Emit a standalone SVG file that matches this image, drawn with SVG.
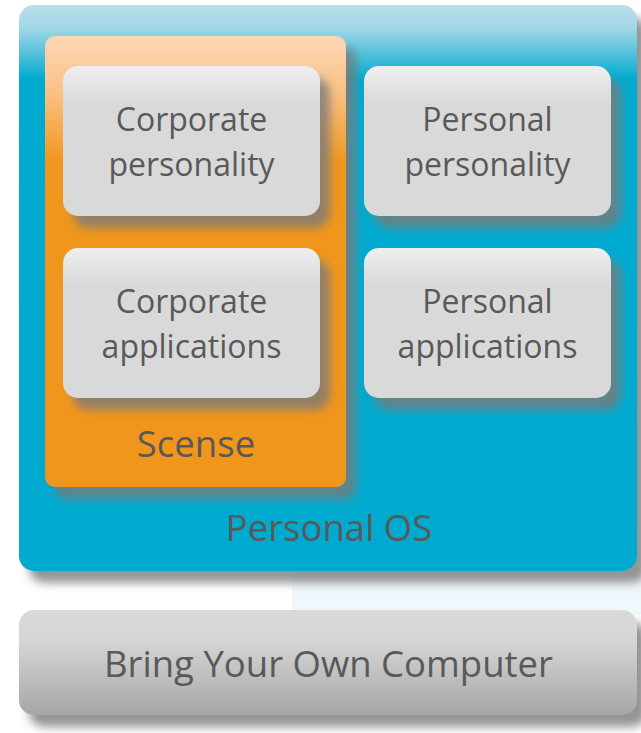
<svg xmlns="http://www.w3.org/2000/svg" width="641" height="733" viewBox="0 0 641 733">
<defs>
<linearGradient id="gBlue" x1="0" y1="0" x2="0" y2="1">
<stop offset="0" stop-color="#b9dfea"/>
<stop offset="0.04" stop-color="#a2d7e6"/>
<stop offset="0.09" stop-color="#4cbfda"/>
<stop offset="0.13" stop-color="#00abcf"/>
<stop offset="1" stop-color="#00aacf"/>
</linearGradient>
<linearGradient id="gOrange" x1="0" y1="0" x2="0" y2="1">
<stop offset="0" stop-color="#fdd7b6"/>
<stop offset="0.12" stop-color="#f9c387"/>
<stop offset="0.28" stop-color="#f1961e"/>
<stop offset="1" stop-color="#f1961e"/>
</linearGradient>
<linearGradient id="gGrey" x1="0" y1="0" x2="0" y2="1">
<stop offset="0" stop-color="#efefef"/>
<stop offset="0.25" stop-color="#d9d9d9"/>
<stop offset="1" stop-color="#d9d9d9"/>
</linearGradient>
<linearGradient id="gBase" x1="0" y1="0" x2="0" y2="1">
<stop offset="0" stop-color="#d9d9d9"/>
<stop offset="0.3" stop-color="#d5d5d5"/>
<stop offset="1" stop-color="#a6a6a6"/>
</linearGradient>
<linearGradient id="gGlow" x1="0" y1="0" x2="0" y2="1">
<stop offset="0" stop-color="#eef7fb" stop-opacity="0"/>
<stop offset="0.5" stop-color="#eef7fb"/>
<stop offset="1" stop-color="#f0f8fc"/>
</linearGradient>
<filter id="shadow" x="-10%" y="-10%" width="130%" height="130%">
<feGaussianBlur in="SourceAlpha" stdDeviation="5"/>
<feOffset dx="10" dy="12" result="b"/>
<feFlood flood-color="#7a7a7a" flood-opacity="0.8"/>
<feComposite in2="b" operator="in"/>
<feMerge><feMergeNode/><feMergeNode in="SourceGraphic"/></feMerge>
</filter>
</defs>
<style>
.t{font-family:"Open Sans","Noto Sans","DejaVu Sans",sans-serif;fill:#595959;text-anchor:middle}
.s32{font-size:32px}
.s36{font-size:36.5px}
</style>
<rect width="641" height="733" fill="#ffffff"/>
<rect x="292" y="565" width="349" height="50" fill="url(#gGlow)"/>
<g id="personal-os">
<rect x="19" y="5" width="618" height="566" rx="15" fill="url(#gBlue)" filter="url(#shadow)"/>
<text class="t s36" x="329" y="541">Personal OS</text>
</g>
<g id="scense">
<rect x="45" y="36" width="301" height="451" rx="10" fill="url(#gOrange)" filter="url(#shadow)"/>
<text class="t s36" x="196" y="457">Scense</text>
</g>
<g id="corporate-personality">
<rect x="63" y="66" width="257" height="150" rx="15" fill="url(#gGrey)" filter="url(#shadow)"/>
<text class="t s32" x="191.5" y="131">Corporate</text>
<text class="t s32" x="191.5" y="176">personality</text>
</g>
<g id="corporate-applications">
<rect x="63" y="248" width="257" height="150" rx="15" fill="url(#gGrey)" filter="url(#shadow)"/>
<text class="t s32" x="191.5" y="313">Corporate</text>
<text class="t s32" x="191.5" y="358">applications</text>
</g>
<g id="personal-personality">
<rect x="364" y="66" width="247" height="150" rx="15" fill="url(#gGrey)" filter="url(#shadow)"/>
<text class="t s32" x="487.5" y="131">Personal</text>
<text class="t s32" x="487.5" y="176">personality</text>
</g>
<g id="personal-applications">
<rect x="364" y="248" width="247" height="150" rx="15" fill="url(#gGrey)" filter="url(#shadow)"/>
<text class="t s32" x="487.5" y="313">Personal</text>
<text class="t s32" x="487.5" y="358">applications</text>
</g>
<g id="byoc">
<rect x="19" y="610" width="618" height="105" rx="15" fill="url(#gBase)" filter="url(#shadow)"/>
<text class="t s36" x="328.5" y="677">Bring Your Own Computer</text>
</g>
<g id="connectors"/>
</svg>
